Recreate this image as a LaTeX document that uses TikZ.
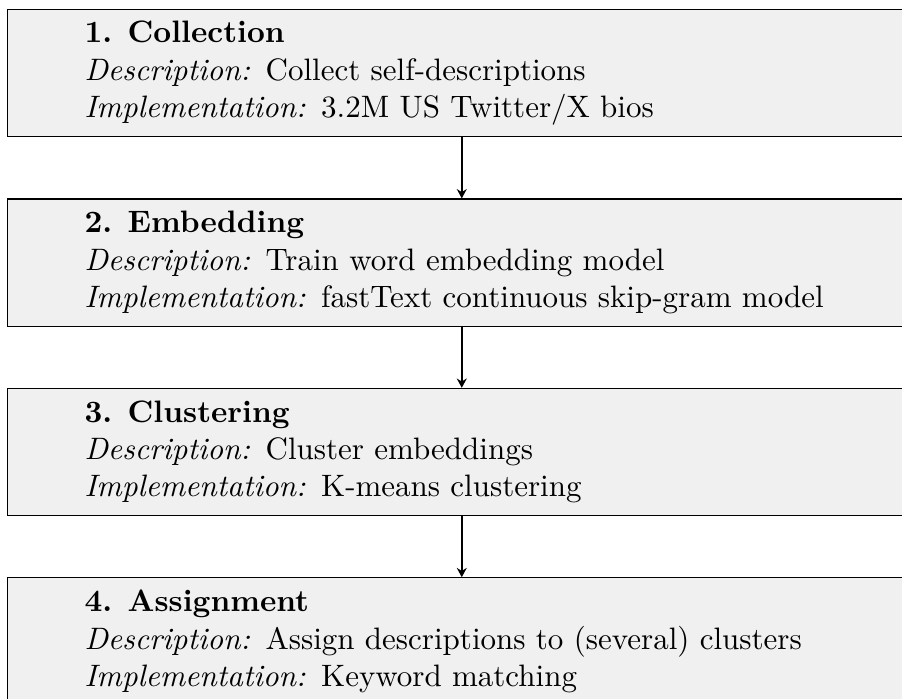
\documentclass[tikz,border=0pt]{standalone}
\usepackage{xcolor}
\usepackage{tikz}
\usetikzlibrary{positioning,arrows.meta}
\definecolor{stagegray}{HTML}{f0f0f0}

\begin{document}
\begin{tikzpicture}[x=1pt,y=1pt,
  stagebox/.style={draw=black,line width=0.4pt,fill=stagegray,
    text width=243.4pt,inner xsep=24.8pt,inner ysep=0pt,
    minimum height=41pt,align=left},
  flowarrow/.style={-{Stealth[length=3pt,width=3.2pt]},line width=0.6pt}]
  \useasboundingbox (0,0) rectangle (290.97,-225.16);
  \clip (0,0) rectangle (290.97,-225.16);
  \node[stagebox,anchor=north west] (collect) at (2.26,-2.9)
    {\textbf{1. Collection}\\
     \textit{Description:} Collect self-descriptions\\
     \textit{Implementation:} 3.2M US Twitter/X bios};
  \node[stagebox,below=19.7pt of collect] (embed)
    {\textbf{2. Embedding}\\
     \textit{Description:} Train word embedding model\\
     \textit{Implementation:} fastText continuous skip-gram model};
  \node[stagebox,below=19.7pt of embed] (cluster)
    {\textbf{3. Clustering}\\
     \textit{Description:} Cluster embeddings\\
     \textit{Implementation:} K-means clustering};
  \node[stagebox,below=19.7pt of cluster] (assign)
    {\textbf{4. Assignment}\\
     \textit{Description:} Assign descriptions to (several) clusters\\
     \textit{Implementation:} Keyword matching};
  \draw[flowarrow] (collect.south) -- (embed.north);
  \draw[flowarrow] (embed.south) -- (cluster.north);
  \draw[flowarrow] (cluster.south) -- (assign.north);
\end{tikzpicture}
\end{document}
